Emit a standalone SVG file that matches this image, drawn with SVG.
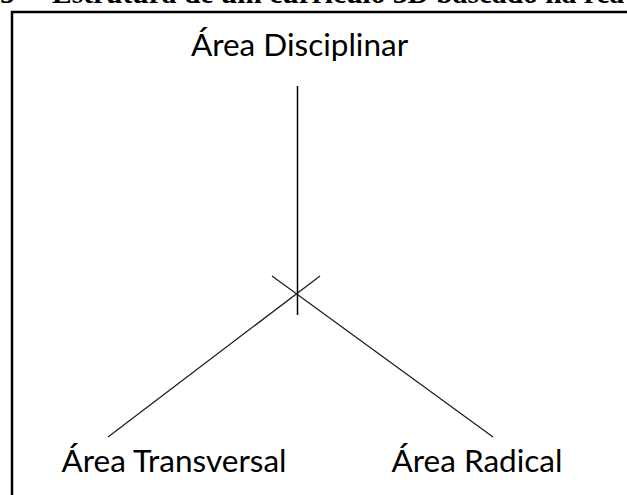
<svg xmlns="http://www.w3.org/2000/svg" width="627" height="495" viewBox="0 0 627 495">
  <style>
    .label { font-family: Lato, "Open Sans", "Liberation Sans", sans-serif; font-size: 31.5px; fill: #000; text-anchor: middle; }
    .title { font-family: "Liberation Serif", "Times New Roman", serif; font-weight: bold; font-size: 29.5px; fill: #000; }
    .conn { stroke: #1a1a1a; stroke-width: 1.2; fill: none; }
    .frame { stroke: #000; stroke-width: 2.5; fill: none; }
  </style>
  <rect width="627" height="495" fill="#fff"/>
  <text class="title" y="3"><tspan x="0">5 –</tspan><tspan x="52">Estrutura de um currículo 3D baseado na rea</tspan></text>
  <rect class="frame" x="12" y="12" width="700" height="600"/>
  <g id="connectors">
    <line class="conn" x1="297.5" y1="86" x2="297.5" y2="315" style="stroke-width:1.5;stroke:#000"/>
    <line class="conn" x1="320" y1="276" x2="108" y2="437"/>
    <line class="conn" x1="272" y1="276" x2="493" y2="437"/>
  </g>
  <g id="area-disciplinar">
    <text class="label" x="299.5" y="56">Área Disciplinar</text>
  </g>
  <g id="area-transversal">
    <text class="label" x="174" y="472">Área Transversal</text>
  </g>
  <g id="area-radical">
    <text class="label" x="477" y="472">Área Radical</text>
  </g>
</svg>
